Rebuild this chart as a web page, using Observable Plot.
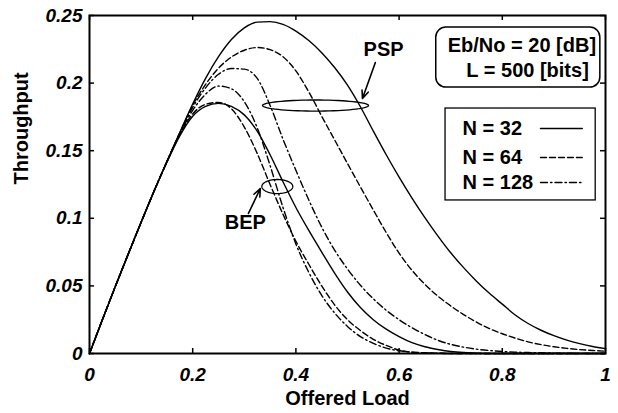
<!DOCTYPE html>
<html><head><meta charset="utf-8">
<script src="https://cdn.jsdelivr.net/npm/d3@7"></script>
<script src="https://cdn.jsdelivr.net/npm/@observablehq/plot@0.6"></script>
<style>
html,body{margin:0;padding:0;background:#fff;}
#chart svg{display:block;}
</style></head><body><div id="chart"></div>
<script>
// Offered load grid (x)
const load = [0, 0.025, 0.05, 0.075, 0.1, 0.125, 0.15, 0.175, 0.2, 0.225, 0.25, 0.275, 0.3, 0.325, 0.35, 0.375, 0.4, 0.425, 0.45, 0.475, 0.5, 0.525, 0.55, 0.575, 0.6, 0.625, 0.65, 0.675, 0.7, 0.725, 0.75, 0.775, 0.8, 0.825, 0.85, 0.875, 0.9, 0.925, 0.95, 0.975, 1];
// Throughput, PSP scheme
const psp32 = [0, 0.025, 0.0495, 0.0735, 0.097, 0.12, 0.142, 0.1635, 0.1845, 0.2035, 0.2195, 0.2322, 0.2408, 0.2451, 0.2455, 0.2435, 0.2385, 0.2315, 0.2225, 0.2115, 0.1985, 0.1825, 0.1645, 0.147, 0.1305, 0.115, 0.1005, 0.087, 0.0745, 0.0635, 0.0535, 0.0445, 0.0365, 0.0285, 0.0222, 0.0172, 0.0132, 0.0099, 0.0073, 0.0052, 0.0036];
const psp64 = [0, 0.025, 0.0495, 0.0735, 0.097, 0.12, 0.142, 0.1633, 0.1835, 0.199, 0.211, 0.2193, 0.2243, 0.2263, 0.2247, 0.2195, 0.209, 0.1935, 0.1755, 0.158, 0.1405, 0.1232, 0.1062, 0.0895, 0.0742, 0.0615, 0.0512, 0.0425, 0.0352, 0.0288, 0.0232, 0.0184, 0.0146, 0.0114, 0.0086, 0.0066, 0.005, 0.0038, 0.0029, 0.0022, 0.0017];
const psp128 = [0, 0.025, 0.0495, 0.0735, 0.097, 0.12, 0.142, 0.163, 0.182, 0.1965, 0.2065, 0.2108, 0.2103, 0.2035, 0.1835, 0.1585, 0.1355, 0.1135, 0.0935, 0.0765, 0.0625, 0.0505, 0.0405, 0.032, 0.025, 0.019, 0.014, 0.0098, 0.0068, 0.0047, 0.0032, 0.0022, 0.0015, 0.001, 0.0007, 0.0005, 0.0003, 0.0002, 0.0001, 0.0001, 0];
// Throughput, BEP scheme
const bep32 = [0, 0.025, 0.0495, 0.0735, 0.097, 0.12, 0.1415, 0.161, 0.1755, 0.1828, 0.185, 0.1828, 0.1765, 0.1645, 0.147, 0.127, 0.108, 0.091, 0.075, 0.0595, 0.0455, 0.034, 0.025, 0.018, 0.0125, 0.008, 0.005, 0.003, 0.0015, 0.0007, 0.0003, 0, 0, 0, 0, 0, 0, 0, 0, 0, 0];
const bep64 = [0, 0.025, 0.0495, 0.0735, 0.097, 0.12, 0.1417, 0.1618, 0.1772, 0.1843, 0.1857, 0.181, 0.1675, 0.148, 0.125, 0.103, 0.083, 0.066, 0.05, 0.036, 0.025, 0.017, 0.0105, 0.006, 0.0025, 0.001, 0.0005, 0.0002, 0, 0, 0, 0, 0, 0, 0, 0, 0, 0, 0, 0, 0];
const bep128 = [0, 0.025, 0.0495, 0.0735, 0.097, 0.12, 0.1418, 0.1625, 0.1798, 0.1918, 0.1978, 0.1958, 0.1862, 0.167, 0.139, 0.108, 0.081, 0.06, 0.043, 0.03, 0.02, 0.0125, 0.0075, 0.004, 0.002, 0.001, 0.0005, 0.0002, 0, 0, 0, 0, 0, 0, 0, 0, 0, 0, 0, 0, 0];

const xTicks = [0, 0.2, 0.4, 0.6, 0.8, 1];
const yTicks = [0, 0.05, 0.1, 0.15, 0.2, 0.25];
const nLabels = ["N = 32", "N = 64", "N = 128"];
const infoLines = ["Eb/No = 20 [dB]", "L = 500 [bits]"];
const groupLabels = ["PSP", "BEP"];

const dashes = [null, "6,3", "7,3,1.5,3"];
const curves = [
  {values: psp32, style: 0}, {values: psp64, style: 1}, {values: psp128, style: 2},
  {values: bep32, style: 0}, {values: bep64, style: 1}, {values: bep128, style: 2}
];

const W = 618, H = 413, mL = 89, mR = 13, mT = 15, mB = 60;
const plotW = W - mL - mR, plotH = H - mT - mB;
const FONT = "'Liberation Sans', Arial, Helvetica, sans-serif";

function ellipse(cx, cy, rx, ry) {
  const pts = [];
  for (let k = 0; k <= 72; k++) {
    const t = (k / 72) * 2 * Math.PI;
    pts.push({x: cx + rx * Math.cos(t), y: cy + ry * Math.sin(t)});
  }
  return pts;
}

const marks = [];
for (const c of curves) {
  const opts = {x: "x", y: "y", curve: "monotone-x", stroke: "black", strokeWidth: 1.4};
  if (dashes[c.style]) opts.strokeDasharray = dashes[c.style];
  marks.push(Plot.line(load.map((x, i) => ({x, y: c.values[i]})), opts));
}

// annotation ellipses and arrows
marks.push(Plot.line(ellipse(0.438, 0.1834, 0.1027, 0.0041), {x: "x", y: "y", stroke: "black", strokeWidth: 1.3}));
marks.push(Plot.line(ellipse(0.364, 0.1235, 0.030, 0.0052), {x: "x", y: "y", stroke: "black", strokeWidth: 1.3}));
marks.push(Plot.arrow([{x1: 0.554, y1: 0.2152, x2: 0.529, y2: 0.1886}, {x1: 0.308, y1: 0.1036, x2: 0.331, y2: 0.122}],
  {x1: "x1", y1: "y1", x2: "x2", y2: "y2", stroke: "black", strokeWidth: 1.6, headLength: 8, headAngle: 45}));
marks.push(Plot.text([{t: groupLabels[0], x: 0.570, y: 0.2249}, {t: groupLabels[1], x: 0.302, y: 0.0969}],
  {x: "x", y: "y", text: "t", fontSize: 20, fontWeight: "bold", fill: "black"}));

// parameter box
marks.push(Plot.rect([{x1: 0.672, x2: 0.990, y1: 0.1967, y2: 0.2411}],
  {x1: "x1", x2: "x2", y1: "y1", y2: "y2", rx: 10, fill: "white", stroke: "black", strokeWidth: 1.5}));
marks.push(Plot.text([{t: infoLines[0], x: 0.838, y: 0.2278}, {t: infoLines[1], x: 0.849, y: 0.2093}],
  {x: "x", y: "y", text: "t", fontSize: 20, fontWeight: "bold", fill: "black"}));

// legend box
const legendY = [0.1664, 0.145, 0.1265];
marks.push(Plot.rect([{x1: 0.690, x2: 0.981, y1: 0.1132, y2: 0.1812}],
  {x1: "x1", x2: "x2", y1: "y1", y2: "y2", fill: "white", stroke: "black", strokeWidth: 1.3}));
marks.push(Plot.text(nLabels.map((t, i) => ({t, y: legendY[i]})),
  {x: 0.723, y: "y", text: "t", textAnchor: "start", fontSize: 20, fontWeight: "bold", fill: "black"}));
nLabels.forEach((t, i) => {
  const opts = {x: "x", y: "y", stroke: "black", strokeWidth: 1.4};
  if (dashes[i]) opts.strokeDasharray = dashes[i];
  marks.push(Plot.line([{x: 0.874, y: legendY[i]}, {x: 0.955, y: legendY[i]}], opts));
});

// axes
marks.push(Plot.axisX(xTicks, {tickSize: 0, tickPadding: 14, tickFormat: d => String(d), fontSize: 19, fontWeight: "bold", fontStyle: "italic", label: null}));
marks.push(Plot.axisY(yTicks, {tickSize: 0, tickPadding: 7, tickFormat: d => String(d), fontSize: 19, fontWeight: "bold", fontStyle: "italic", label: null}));
marks.push(Plot.tickX(xTicks, {x: d => d, insetTop: plotH - 5, stroke: "black", strokeWidth: 1.5}));
marks.push(Plot.tickX(xTicks, {x: d => d, insetBottom: plotH - 5, stroke: "black", strokeWidth: 1.5}));
marks.push(Plot.tickY(yTicks, {y: d => d, insetRight: plotW - 5, stroke: "black", strokeWidth: 1.5}));
marks.push(Plot.tickY(yTicks, {y: d => d, insetLeft: plotW - 5, stroke: "black", strokeWidth: 1.5}));
marks.push(Plot.frame({stroke: "black", strokeWidth: 2}));
marks.push(Plot.text(["Offered Load"], {frameAnchor: "bottom", dy: 51, fontSize: 20, fontWeight: "bold", fill: "black"}));
marks.push(Plot.text(["Throughput"], {frameAnchor: "left", dx: -68, rotate: -90, fontSize: 20, fontWeight: "bold", fill: "black"}));

const chart = Plot.plot({
  width: W, height: H, marginLeft: mL, marginRight: mR, marginTop: mT, marginBottom: mB,
  x: {domain: [0, 1]}, y: {domain: [0, 0.25]},
  style: {fontFamily: FONT, background: "white", color: "black"},
  marks
});
document.getElementById("chart").appendChild(chart);
</script></body></html>
